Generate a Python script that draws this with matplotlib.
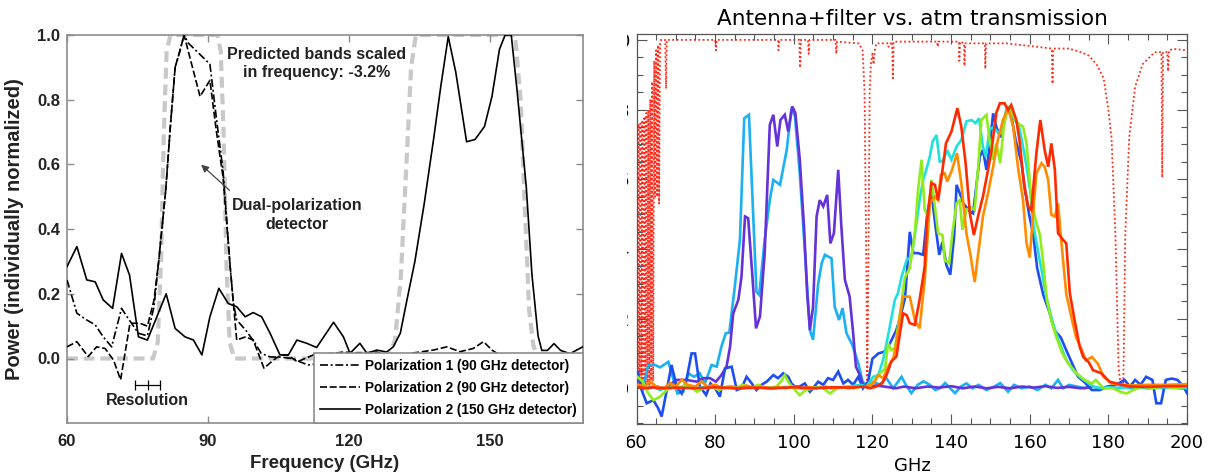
import matplotlib
matplotlib.use("Agg")
import matplotlib.pyplot as plt
from matplotlib.patches import Rectangle
from matplotlib.ticker import MultipleLocator

# ---------------- LEFT PANEL DATA ----------------
pol2_150_f = [60, 62.1, 64.2, 66.0, 67.7, 69.7, 71.6, 73.3, 75.2, 77.1, 81.1, 83.0, 85.1, 86.9,
              88.7, 90.4, 92.3, 94.3, 96.1, 97.9, 99.6, 101.4, 103.2, 105.3, 107.1, 108.9, 111.0,
              113.1, 116.7, 118.8, 120.2, 122.3, 123.8, 125.9, 128.0, 129.4, 130.9, 132.3, 134.0,
              136.0, 138.0, 139.5, 141.1, 142.7, 145.0, 146.8, 148.8, 150.4, 152.0, 153.2, 154.5,
              155.7, 157.7, 158.9, 160.2, 161.0, 162.2, 163.6, 165.0, 167.0, 169.7]
pol2_150_v = [0.284, 0.346, 0.243, 0.237, 0.181, 0.155, 0.325, 0.258, 0.067, 0.057, 0.200, 0.093,
              0.067, 0.057, 0.011, 0.129, 0.217, 0.170, 0.160, 0.129, 0.142, 0.129, 0.078, 0.011,
              0.011, 0.057, 0.047, 0.034, 0.112, 0.067, 0.016, 0.047, 0.016, 0.026, 0.020, 0.036,
              0.078, 0.180, 0.300, 0.480, 0.680, 0.840, 0.995, 0.885, 0.670, 0.677, 0.717, 0.810,
              0.956, 1.000, 1.000, 0.834, 0.530, 0.260, 0.070, 0.025, 0.025, 0.046, 0.025, 0.015,
              0.036]

pol1_90_f = [60, 62.1, 64.2, 66.0, 67.7, 69.5, 71.6, 73.0, 75.2, 77.1, 78.5, 79.5, 81.0, 82.0,
             83.0, 84.0, 84.9, 85.8, 90.4, 91.8, 93.2, 94.7, 95.4, 96.1, 98.0, 99.9, 101.3, 103.2,
             105.5, 108.1, 109.5, 111.3, 114.0, 116.0, 118.0, 120.0, 122.0, 124.0, 126.0, 128.0,
             135.0, 145.0, 155.0, 169.7]
pol1_90_v = [0.243, 0.140, 0.119, 0.104, 0.067, 0.036, 0.155, 0.124, 0.078, 0.070, 0.160, 0.300,
             0.520, 0.720, 0.900, 0.950, 1.000, 0.975, 0.910, 0.740, 0.580, 0.285, 0.170, 0.119,
             0.088, 0.050, 0.016, 0.005, 0.004, 0.000, -0.010, -0.020, -0.015, -0.010, 0.000,
             0.010, 0.012, 0.010, 0.005, 0.000, 0.000, 0.000, 0.000, 0.000]

pol2_90_f = [60, 62.1, 64.5, 66.3, 68.1, 69.9, 71.4, 73.4, 75.5, 77.1, 78.5, 79.5, 81.0, 82.0,
             83.0, 84.0, 84.9, 88.3, 90.4, 91.8, 93.2, 94.7, 95.4, 96.1, 98.0, 99.6, 101.9, 103.9,
             105.5, 107.0, 109.0, 112.4, 116.7, 118.8, 120.9, 123.8, 125.9, 128.0, 130.5, 133.0,
             135.1, 137.9, 140.8, 143.6, 146.4, 148.6, 150.4, 152.1, 155.0, 169.7]
pol2_90_v = [0.036, 0.052, 0.006, 0.036, 0.031, -0.005, -0.066, 0.109, 0.109, 0.100, 0.180,
             0.300, 0.520, 0.720, 0.900, 0.950, 1.000, 0.810, 0.860, 0.700, 0.560, 0.285, 0.170,
             0.057, 0.067, 0.057, -0.030, -0.005, 0.011, 0.010, -0.010, 0.011, 0.016, 0.020,
             0.018, 0.018, 0.020, 0.008, 0.005, 0.016, 0.020, 0.026, 0.036, 0.021, 0.031, 0.052,
             0.026, 0.010, 0.000, 0.000]

pred_f = [60, 78.3, 79.3, 80.0, 80.6, 81.2, 82.0, 92.0, 92.7, 93.3, 93.9, 94.6, 95.6, 128.5,
          129.8, 131.0, 132.2, 133.2, 134.2, 155.3, 156.5, 157.3, 158.3, 159.2, 160.3, 169.7]
pred_v = [0.0, 0.0, 0.05, 0.30, 0.70, 0.95, 1.0, 1.0, 0.95, 0.70, 0.30, 0.05, 0.0, 0.0,
          0.06, 0.25, 0.60, 0.90, 1.0, 1.0, 0.80, 0.50, 0.15, 0.04, 0.0, 0.0]

left_xticks = [60, 90, 120, 150]
left_yticks = [0.0, 0.2, 0.4, 0.6, 0.8, 1.0]
legend_labels = ["Polarization 1 (90 GHz detector)",
                 "Polarization 2 (90 GHz detector)",
                 "Polarization 2 (150 GHz detector)"]
resolution_f = [74.5, 77.2, 79.8]

# ---------------- RIGHT PANEL DATA ----------------
atm_f = [60.0, 60.25, 60.5, 60.75, 61.0, 61.25, 61.5, 61.75, 62.0, 62.25, 62.5, 62.75, 63.0,
         63.25, 63.5, 63.75, 64.0, 64.25, 64.5, 64.75, 65.0, 65.25, 65.5, 65.75, 66.0, 66.2,
         67.3, 67.5, 67.7, 80.0, 80.2, 80.4, 96.0, 96.1, 96.3, 101.4, 101.6, 101.8, 103.6,
         103.8, 104.0, 110.6, 110.8, 111.0, 116.5, 117.5, 118.0, 118.4, 118.7, 119.0, 119.3,
         119.6, 120.0, 120.3, 120.6, 121.0, 124.0, 124.1, 125.0, 125.2, 125.4, 136.5, 136.6,
         136.8, 142.0, 142.1, 142.3, 143.3, 143.4, 143.6, 148.6, 148.7, 148.9, 154.0, 158.0,
         162.0, 165.6, 165.8, 166.0, 170.0, 173.0, 175.0, 177.0, 178.8, 180.0, 180.8, 181.8,
         182.6, 183.2, 183.8, 184.3, 185.3, 186.8, 188.7, 191.7, 193.5, 193.7, 193.9, 195.0,
         195.2, 195.4, 196.6, 200.0]
atm_v = [0.76, 0.01, 0.76, 0.01, 0.76, 0.01, 0.77, 0.01, 0.78, 0.01, 0.79, 0.01, 0.80, 0.01,
         0.83, 0.01, 0.88, 0.02, 0.94, 0.55, 0.97, 0.55, 0.985, 0.53, 0.99, 1.0, 1.0, 0.86, 1.0,
         1.0, 0.97, 1.0, 1.0, 0.97, 1.0, 1.0, 0.92, 1.0, 1.0, 0.96, 1.0, 1.0, 0.96, 0.995, 0.99,
         0.97, 0.85, 0.40, 0.0, 0.40, 0.85, 0.93, 0.96, 0.93, 0.97, 0.99, 0.99, 0.98, 0.995,
         0.89, 0.995, 0.995, 0.98, 0.995, 0.995, 0.94, 0.995, 0.99, 0.925, 0.99, 0.99, 0.917,
         0.99, 0.99, 0.985, 0.98, 0.975, 0.874, 0.975, 0.975, 0.965, 0.955, 0.93, 0.89, 0.80,
         0.72, 0.44, 0.06, 0.0, 0.0, 0.44, 0.72, 0.865, 0.93, 0.964, 0.965, 0.605, 0.965, 0.965,
         0.91, 0.97, 0.974, 0.97]

lblue_f = [60.2, 61.5, 63.0, 64.7, 66.0, 68.1, 69.2, 70.4, 71.9, 73.2, 74.6, 76.1, 77.4, 79.1,
           80.4, 81.6, 82.7, 83.6, 85.0, 86.3, 87.4, 88.6, 90.5, 91.2, 92.6, 93.9, 94.8, 96.5,
           98.2, 99.4, 100.3, 101.5, 102.8, 104.1, 104.9, 106.2, 107.1, 107.9, 109.6, 110.4,
           111.5, 112.4, 113.4, 114.9, 116.4, 117.5, 118.5, 120.2, 122.0, 123.5, 125.3, 127.4,
           128.5, 129.9, 131.5, 133.0, 134.6, 136.0, 137.1, 138.5, 141.0, 142.5, 143.9, 145.5,
           147.0, 149.0, 151.0, 152.5, 154.5, 156.0, 158.0, 160.0, 162.0, 164.0, 165.5, 167.2,
           168.5, 170.0, 172.0, 174.0, 176.0, 178.0, 180.0, 182.0, 184.0, 186.0, 188.0, 190.0,
           192.0, 194.0, 196.0, 198.0, 200.0]
lblue_v = [0.014, -0.005, 0.067, 0.067, 0.060, 0.076, 0.033, -0.015, -0.010, 0.043, 0.033,
           0.043, 0.014, 0.067, 0.062, 0.120, 0.158, 0.160, 0.292, 0.426, 0.775, 0.785, 0.277,
           0.268, 0.426, 0.540, 0.598, 0.584, 0.684, 0.804, 0.780, 0.620, 0.397, 0.167, 0.139,
           0.300, 0.359, 0.383, 0.373, 0.234, 0.196, 0.230, 0.158, 0.124, 0.072, 0.019, 0.010,
           0.019, 0.010, 0.030, 0.000, 0.033, 0.010, -0.014, 0.010, 0.020, 0.010, -0.005, 0.000,
           0.015, -0.014, 0.005, 0.014, 0.000, 0.010, -0.005, 0.005, 0.015, -0.010, 0.010, 0.000,
           0.005, -0.005, 0.010, 0.000, 0.024, 0.000, 0.010, 0.005, 0.000, 0.005, 0.000, 0.005,
           0.000, 0.005, 0.000, 0.010, 0.000, 0.005, 0.000, 0.005, 0.000, 0.000]

purple_f = [63.0, 65.0, 67.2, 70.2, 72.7, 75.3, 77.0, 78.7, 80.2, 81.6, 82.9, 83.8, 84.6, 85.9,
            86.7, 87.6, 88.4, 89.3, 90.4, 91.4, 92.6, 93.9, 94.8, 95.8, 96.6, 97.7, 98.6, 99.6,
            100.4, 101.5, 102.6, 103.4, 104.1, 104.9, 105.8, 106.6, 107.5, 108.5, 109.3, 110.2,
            111.3, 112.1, 113.0, 114.2, 115.1, 115.8, 116.8, 117.6, 118.5, 121.0, 123.0, 126.0,
            128.0, 131.0, 134.0, 137.0, 140.0, 143.0, 146.0, 149.0, 152.0, 155.0, 158.0, 161.0,
            164.0, 167.0, 170.0, 173.0, 175.5]
purple_v = [0.000, 0.005, 0.000, 0.024, 0.024, 0.019, 0.029, 0.029, 0.019, 0.038, 0.062, 0.120,
            0.215, 0.254, 0.320, 0.493, 0.488, 0.349, 0.172, 0.206, 0.388, 0.756, 0.785, 0.694,
            0.770, 0.785, 0.737, 0.809, 0.790, 0.660, 0.464, 0.273, 0.167, 0.234, 0.493, 0.540,
            0.522, 0.555, 0.416, 0.445, 0.627, 0.464, 0.311, 0.263, 0.158, 0.062, 0.038, 0.010,
            0.005, 0.008, 0.005, 0.000, 0.005, 0.000, 0.005, 0.002, 0.006, 0.000, 0.005, 0.000,
            0.004, 0.000, 0.005, 0.002, 0.006, 0.001, 0.004, 0.000, 0.003]

blue_f = [60.2, 61.3, 62.6, 64.3, 65.5, 66.4, 67.7, 68.9, 70.2, 71.5, 72.7, 74.0, 74.9, 76.1,
          77.7, 78.8, 80.0, 81.2, 82.5, 84.2, 85.5, 86.7, 88.0, 89.3, 90.5, 91.8, 93.1, 94.8,
          96.0, 97.3, 98.6, 99.4, 100.3, 101.5, 102.8, 104.1, 104.9, 106.2, 107.5, 108.7, 110.0,
          111.3, 112.6, 113.8, 115.1, 116.4, 117.6, 118.9, 120.0, 121.5, 123.0, 124.5, 126.0,
          127.0, 128.3, 129.5, 130.4, 131.6, 132.9, 134.0, 135.0, 136.0, 137.0, 137.8, 138.8,
          139.8, 140.8, 141.4, 142.2, 143.1, 144.8, 145.6, 147.3, 148.1, 149.0, 149.8, 150.7,
          151.5, 152.5, 153.4, 154.5, 155.5, 156.4, 157.9, 158.9, 159.9, 160.9, 161.9, 163.4,
          164.9, 166.4, 167.9, 169.3, 170.8, 172.3, 173.8, 175.8, 177.8, 179.8, 182.0, 184.1,
          185.5, 186.8, 188.2, 189.6, 191.2, 192.2, 193.4, 194.6, 196.1, 197.6, 199.1, 200.0]
blue_v = [0.048, -0.005, -0.043, -0.034, -0.057, -0.081, -0.005, 0.067, 0.005, -0.015, 0.024,
          0.100, 0.100, 0.005, -0.019, 0.014, 0.000, -0.024, 0.057, 0.062, -0.005, 0.000, 0.033,
          0.014, -0.005, 0.010, 0.019, 0.038, 0.029, 0.043, 0.033, 0.014, 0.005, 0.005, 0.014,
          -0.010, 0.000, 0.019, 0.010, 0.029, 0.024, 0.048, 0.014, 0.024, 0.010, 0.033, 0.000,
          0.019, 0.085, 0.100, 0.105, 0.130, 0.165, 0.200, 0.260, 0.449, 0.388, 0.388, 0.383,
          0.506, 0.562, 0.468, 0.383, 0.420, 0.354, 0.326, 0.440, 0.584, 0.560, 0.531, 0.507,
          0.502, 0.665, 0.684, 0.627, 0.694, 0.789, 0.751, 0.720, 0.760, 0.809, 0.770, 0.714,
          0.647, 0.562, 0.496, 0.440, 0.345, 0.270, 0.222, 0.165, 0.146, 0.109, 0.071, 0.033,
          0.019, -0.005, -0.005, 0.005, 0.010, 0.024, 0.005, 0.024, 0.010, 0.033, 0.024, -0.043,
          -0.043, 0.024, 0.028, 0.024, 0.005, -0.014]

cyan_f = [60.0, 62.0, 64.0, 66.0, 68.0, 70.0, 72.0, 75.0, 78.0, 81.0, 84.0, 87.0, 90.0, 94.0,
          98.0, 102.0, 106.0, 110.0, 114.0, 117.0, 118.5, 120.2, 121.5, 122.7, 123.6, 124.8,
          125.7, 126.5, 127.4, 128.7, 130.0, 131.2, 132.0, 132.9, 133.7, 134.6, 135.3, 136.3,
          137.1, 137.9, 139.0, 140.1, 141.4, 142.6, 143.9, 145.2, 146.2, 147.1, 148.1, 148.8,
          149.8, 150.8, 151.7, 152.8, 154.1, 155.1, 156.2, 157.3, 158.3, 159.2, 160.2, 161.0,
          161.9, 163.0, 164.2, 165.9, 167.6, 169.3, 171.0, 172.7, 174.4, 176.1, 178.0, 180.0,
          183.0, 186.0, 190.0, 195.0, 200.0]
cyan_v = [0.010, 0.000, 0.005, -0.005, 0.005, 0.000, 0.005, 0.000, 0.005, 0.000, 0.005, 0.000,
          0.003, 0.000, 0.004, 0.000, 0.003, 0.000, 0.005, 0.010, 0.005, 0.033, 0.038, 0.081,
          0.129, 0.200, 0.254, 0.273, 0.320, 0.368, 0.380, 0.474, 0.540, 0.598, 0.627, 0.665,
          0.708, 0.727, 0.651, 0.651, 0.684, 0.656, 0.694, 0.713, 0.766, 0.770, 0.761, 0.775,
          0.694, 0.665, 0.742, 0.750, 0.737, 0.732, 0.804, 0.809, 0.770, 0.751, 0.694, 0.636,
          0.560, 0.464, 0.407, 0.340, 0.263, 0.187, 0.129, 0.081, 0.052, 0.033, 0.019, 0.005,
          0.000, 0.003, 0.000, 0.004, 0.000, 0.003, 0.000]

green_f = [60.2, 61.5, 63.0, 64.3, 66.0, 67.7, 69.5, 71.1, 72.3, 73.8, 75.3, 77.0, 79.0, 81.0,
           83.0, 85.0, 87.0, 89.0, 91.0, 93.0, 95.6, 96.8, 97.7, 98.8, 100.3, 101.5, 103.0,
           105.0, 107.0, 109.2, 111.0, 113.0, 115.0, 117.0, 119.3, 121.9, 123.2, 124.0, 124.8,
           125.7, 126.5, 127.4, 128.2, 129.5, 130.8, 131.6, 132.5, 133.3, 134.2, 135.0, 135.8,
           136.7, 137.8, 138.4, 139.5, 140.4, 141.4, 142.2, 142.9, 143.9, 145.0, 146.0, 146.9,
           147.7, 149.0, 149.8, 150.7, 151.5, 152.5, 153.4, 154.5, 155.8, 157.0, 158.3, 159.2,
           160.4, 161.7, 162.6, 163.4, 164.4, 165.6, 166.8, 168.3, 169.8, 171.8, 173.8, 175.8,
           176.8, 178.8, 181.2, 183.0, 184.6, 186.3, 188.8, 191.0, 194.0, 197.0, 200.0]
green_v = [0.033, 0.020, -0.015, -0.034, -0.024, -0.005, 0.005, 0.000, 0.010, 0.005, -0.010,
           0.000, 0.005, -0.005, 0.005, 0.000, 0.010, 0.000, 0.010, 0.000, 0.005, 0.020, 0.038,
           0.015, -0.005, -0.020, -0.005, 0.000, 0.005, -0.015, 0.000, 0.005, 0.000, 0.005,
           0.004, 0.043, 0.056, 0.129, 0.110, 0.115, 0.177, 0.244, 0.316, 0.345, 0.445, 0.569,
           0.656, 0.512, 0.493, 0.598, 0.530, 0.445, 0.440, 0.368, 0.359, 0.450, 0.531, 0.540,
           0.455, 0.512, 0.520, 0.512, 0.636, 0.770, 0.785, 0.713, 0.656, 0.703, 0.646, 0.751,
           0.809, 0.780, 0.760, 0.751, 0.703, 0.540, 0.474, 0.440, 0.364, 0.250, 0.190, 0.146,
           0.100, 0.071, 0.045, 0.025, 0.014, 0.024, 0.000, 0.000, -0.010, -0.015, -0.005,
           0.005, 0.000, 0.005, 0.000, 0.005]

orange_f = [60.5, 62.0, 63.5, 65.0, 67.0, 68.5, 70.0, 71.5, 73.0, 75.0, 76.5, 78.0, 80.0, 82.0,
            84.0, 86.0, 88.0, 90.0, 92.0, 94.0, 96.0, 98.0, 100.0, 102.0, 104.0, 106.0, 108.0,
            110.0, 112.0, 114.0, 116.0, 118.0, 119.5, 120.6, 121.5, 122.7, 124.0, 125.3, 126.1,
            127.0, 127.8, 129.5, 130.8, 132.0, 133.3, 134.6, 135.9, 136.7, 137.4, 138.4, 139.0,
            140.1, 141.5, 142.6, 143.9, 145.0, 146.0, 146.9, 148.1, 149.4, 150.7, 151.9, 153.2,
            154.5, 155.8, 157.0, 158.3, 159.2, 160.0, 160.8, 161.7, 163.0, 163.8, 164.7, 165.5,
            166.4, 167.2, 168.0, 169.3, 170.8, 171.8, 173.3, 174.3, 175.8, 177.3, 178.8, 180.8,
            183.0, 186.0, 190.0, 195.0, 200.0]
orange_v = [0.010, 0.005, 0.020, 0.005, 0.000, 0.015, 0.005, 0.025, 0.010, 0.005, 0.020, 0.005,
            0.010, 0.000, 0.005, 0.000, 0.008, 0.000, 0.005, 0.000, 0.004, 0.000, 0.005, 0.000,
            0.004, 0.000, 0.005, 0.000, 0.003, 0.000, 0.005, 0.005, 0.010, 0.020, 0.038, 0.029,
            0.062, 0.086, 0.129, 0.206, 0.263, 0.263, 0.196, 0.172, 0.311, 0.531, 0.550, 0.540,
            0.613, 0.617, 0.593, 0.622, 0.675, 0.589, 0.445, 0.378, 0.305, 0.387, 0.493, 0.560,
            0.636, 0.713, 0.770, 0.804, 0.751, 0.636, 0.540, 0.416, 0.375, 0.493, 0.617, 0.646,
            0.636, 0.598, 0.498, 0.493, 0.531, 0.426, 0.270, 0.194, 0.146, 0.109, 0.080, 0.090,
            0.071, 0.033, 0.014, 0.010, 0.008, 0.010, 0.010, 0.012]

red_f = [60.0, 62.0, 64.0, 66.0, 70.0, 75.0, 80.0, 85.0, 90.0, 95.0, 100.0, 105.0, 110.0,
         115.0, 118.0, 119.3, 121.0, 122.5, 123.6, 124.8, 126.1, 127.0, 127.8, 128.7, 129.5,
         130.8, 132.0, 133.3, 133.8, 135.0, 135.9, 136.7, 137.6, 138.7, 140.1, 141.6, 142.6,
         143.7, 144.8, 145.8, 147.0, 148.1, 149.4, 150.3, 151.5, 152.4, 153.6, 154.5, 155.3,
         156.6, 157.5, 158.5, 159.6, 160.4, 161.7, 162.7, 163.8, 164.7, 165.5, 166.4, 167.2,
         168.5, 169.3, 170.2, 171.4, 172.7, 173.6, 175.0, 176.1, 178.2, 180.3, 182.0, 185.4,
         190.0, 195.0, 200.0]
red_v = [0.005, 0.000, 0.003, 0.000, 0.002, 0.000, 0.003, 0.000, 0.002, 0.000, 0.003, 0.000,
         0.003, 0.002, 0.005, 0.000, 0.005, 0.015, 0.038, 0.077, 0.091, 0.158, 0.215, 0.210,
         0.187, 0.182, 0.254, 0.350, 0.474, 0.589, 0.584, 0.540, 0.608, 0.703, 0.737, 0.804,
         0.751, 0.646, 0.500, 0.440, 0.500, 0.550, 0.627, 0.684, 0.790, 0.818, 0.818, 0.799,
         0.813, 0.770, 0.703, 0.589, 0.522, 0.512, 0.675, 0.770, 0.684, 0.636, 0.703, 0.627,
         0.445, 0.426, 0.416, 0.273, 0.196, 0.120, 0.090, 0.075, 0.052, 0.043, 0.019, 0.014,
         0.005, 0.004, 0.006, 0.006]

right_xticks = [60, 80, 100, 120, 140, 160, 180, 200]
right_yticks = [0.0, 0.2, 0.4, 0.6, 0.8, 1.0]

# ---------------- FIGURE ----------------
W, H = 1212, 476
fig = plt.figure(figsize=(W / 100, H / 100), dpi=100)
fig.patch.set_facecolor("white")

NARROW = ["Liberation Sans Narrow", "Liberation Sans", "DejaVu Sans"]
TXT = "#222222"

# ----- left axes -----
ax1 = fig.add_axes([67 / W, (H - 423.2) / H, (582.7 - 67) / W, (423.2 - 35) / H])
ax1.set_xlim(60, 169.7)
ax1.set_ylim(-0.2, 1.0)

ax1.plot(pred_f, pred_v, color="#c8c8c8", lw=3.0, linestyle=(0, (2.6, 1.4)), zorder=1,
         solid_capstyle="butt")
l1, = ax1.plot(pol1_90_f, pol1_90_v, color="black", lw=1.2,
               linestyle=(0, (4.8, 1.6, 1.2, 1.6)), zorder=3)
l2, = ax1.plot(pol2_90_f, pol2_90_v, color="black", lw=1.2, linestyle=(0, (4.2, 1.6)), zorder=3)
l3, = ax1.plot(pol2_150_f, pol2_150_v, color="black", lw=1.2, linestyle="-", zorder=3)

for sp in ax1.spines.values():
    sp.set_color("#8c8c8c")
    sp.set_linewidth(1.2)
ax1.set_xticks(left_xticks)
ax1.set_yticks(left_yticks)
ax1.set_xticklabels([str(t) for t in left_xticks])
ax1.set_yticklabels(["%.1f" % t for t in left_yticks])
ax1.tick_params(direction="in", length=5, width=1, color="#8c8c8c", top=True, right=True,
                labelsize=12)
ax1.tick_params(axis="x", pad=8)
ax1.tick_params(axis="y", pad=5)
for lab in ax1.get_xticklabels() + ax1.get_yticklabels():
    lab.set_family(NARROW)
    lab.set_fontweight("bold")
    lab.set_color(TXT)

leg = ax1.legend([l1, l2, l3], legend_labels, loc="lower right", borderaxespad=0,
                 frameon=True, fancybox=False, framealpha=1, edgecolor="#8c8c8c",
                 prop={"family": NARROW, "weight": "bold", "size": 9.8},
                 handlelength=2.9, handletextpad=0.4, labelspacing=0.6, borderpad=0.45)
leg.get_frame().set_linewidth(1.2)
leg.set_zorder(5)

ax1.text(113.0, 0.912, "Predicted bands scaled\nin frequency: -3.2%", ha="center",
         va="center", family=NARROW, fontweight="bold", fontsize=11.5, linespacing=1.3,
         color=TXT)
ax1.text(108.9, 0.444, "Dual-polarization\ndetector", ha="center", va="center",
         family=NARROW, fontweight="bold", fontsize=11.5, linespacing=1.3, color=TXT)
ax1.annotate("", xy=(88.1, 0.605), xytext=(95.0, 0.514),
             arrowprops=dict(arrowstyle="-|>", color="#444444", lw=0.9, mutation_scale=11))
ax1.plot(resolution_f, [-0.081] * len(resolution_f), color="black", lw=0.9, marker="|",
         ms=7, mew=0.9)
ax1.text(77.2, -0.13, "Resolution", ha="center", va="center", family=NARROW,
         fontweight="bold", fontsize=11.5, color=TXT)

fig.text(15 / W, 1 - 229 / H, "Power (individually normalized)", rotation=90, ha="center",
         va="center", family=NARROW, fontweight="bold", fontsize=14.5, color=TXT)
fig.text(325 / W, 1 - 463 / H, "Frequency (GHz)", ha="center", va="center", family=NARROW,
         fontweight="bold", fontsize=13.5, color=TXT)

# ----- right axes -----
ax2 = fig.add_axes([636.5 / W, (H - 424) / H, 550.5 / W, 389.7 / H])
ax2.set_xlim(60, 200)
ax2.set_ylim(-0.1025, 1.016)

ax2.plot(atm_f, atm_v, color="#ff2a1a", lw=1.3, linestyle=(0, (1, 1.4)), zorder=1)
series = [(lblue_f, lblue_v, "#1ab0f2"),
          (purple_f, purple_v, "#6432d8"),
          (blue_f, blue_v, "#1e4ef0"),
          (cyan_f, cyan_v, "#20e0dc"),
          (green_f, green_v, "#90ec1a"),
          (orange_f, orange_v, "#ff8c00"),
          (red_f, red_v, "#ff2a00")]
for i, (f, v, c) in enumerate(series):
    ax2.plot(f, v, color=c, lw=1.9, zorder=2 + i, solid_joinstyle="miter")

for sp in ax2.spines.values():
    sp.set_color("#555555")
    sp.set_linewidth(0.9)
ax2.set_xticks(right_xticks)
ax2.set_yticks(right_yticks)
ax2.set_xticklabels([str(t) for t in right_xticks])
ax2.set_yticklabels(["%.1f" % t for t in right_yticks])
ax2.xaxis.set_minor_locator(MultipleLocator(5))
ax2.yaxis.set_minor_locator(MultipleLocator(0.05))
ax2.tick_params(which="major", direction="in", length=7, width=0.8, color="#555555",
                top=True, right=True, labelsize=13)
ax2.tick_params(which="minor", direction="in", length=4, width=0.8, color="#555555",
                top=True, right=True)
ax2.tick_params(axis="x", pad=7)
ax2.tick_params(axis="y", pad=4.5)
fig.text(912 / W, 1 - 466 / H, "GHz", ha="center", va="center", fontsize=13)
fig.text(912 / W, 1 - 19 / H, "Antenna+filter vs. atm transmission", ha="center",
         va="center", fontsize=15.5)

# crop edge of the right-hand picture (its y labels are cut off in the reference)
fig.add_artist(Rectangle((590 / W, 0), (627 - 590) / W, 1, transform=fig.transFigure,
                         facecolor="white", edgecolor="none", zorder=20))

fig.savefig("out.png", dpi=100)
